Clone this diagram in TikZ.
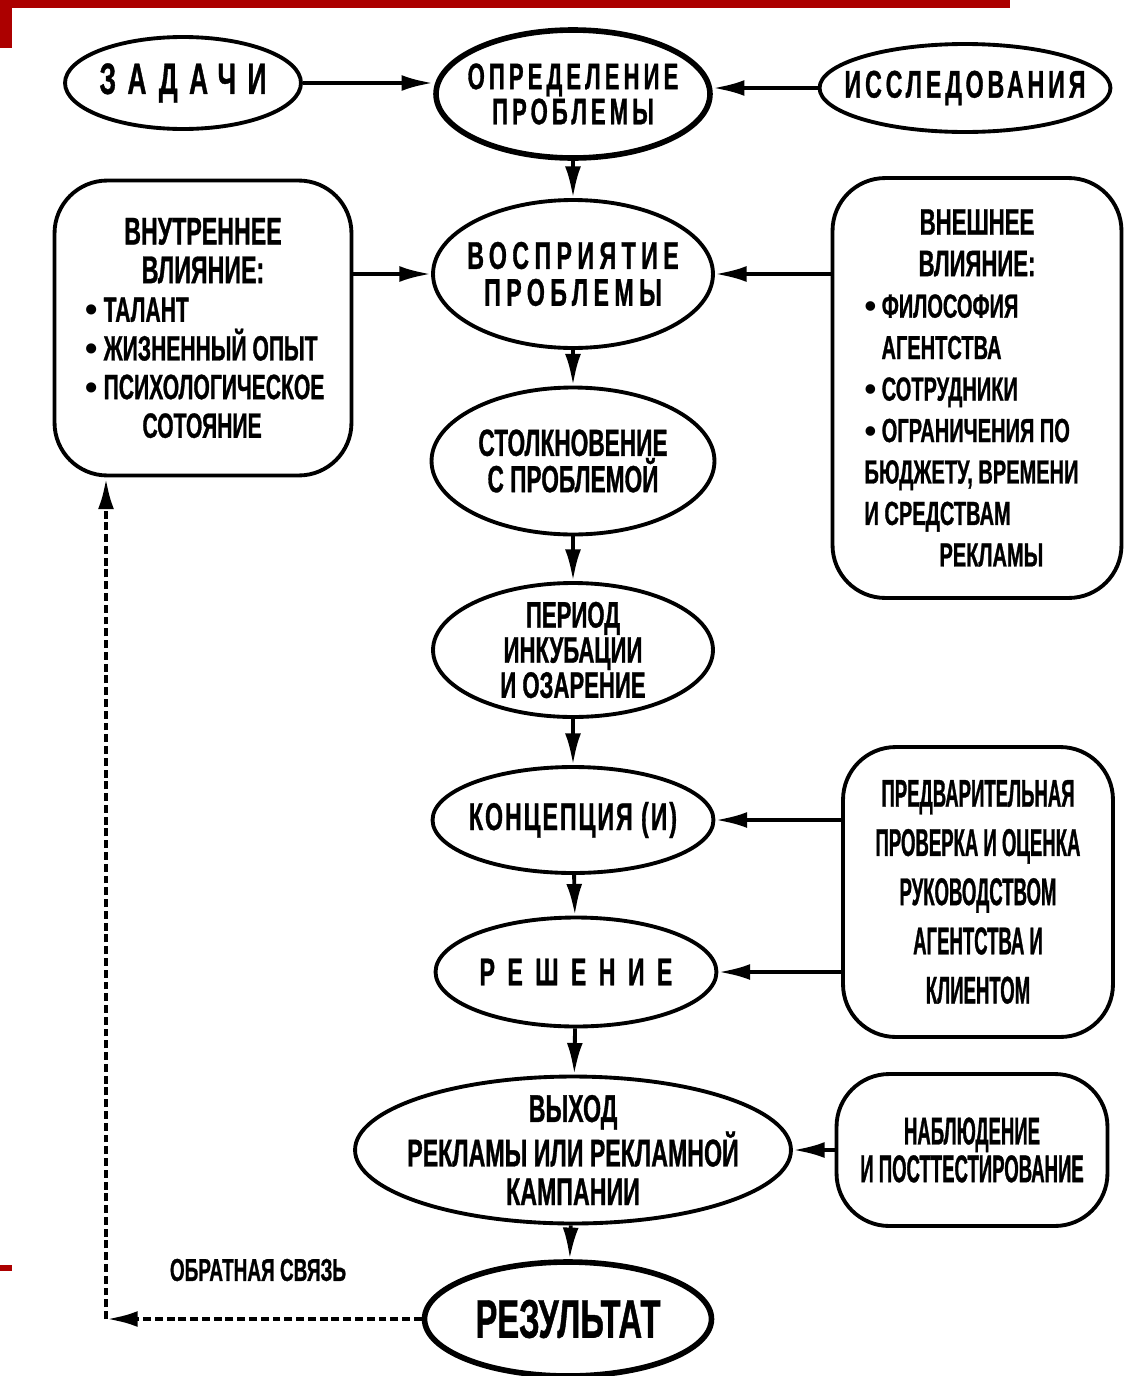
\documentclass[tikz,border=0pt]{standalone}
\usepackage{fontspec}
\setmainfont{Liberation Sans}
\newfontfamily\narrowfont[FakeStretch=0.6,FakeBold=0.8]{Liberation Sans}
\newfontfamily\slimfont[FakeStretch=0.48,FakeBold=0.8]{Liberation Sans}
\usetikzlibrary{arrows.meta,calc,positioning,shapes.geometric}
\definecolor{slidered}{RGB}{172,0,0}
\newcommand{\nf}[2]{\narrowfont\bfseries\fontsize{#1}{#2}\selectfont}
\newcommand{\slf}[2]{\slimfont\bfseries\fontsize{#1}{#2}\selectfont}
\newcommand{\spaced}[1]{\addfontfeature{LetterSpace=#1}}
\newcommand{\bul}{{\rmfamily\bfseries\textbullet}\,}
\newcommand{\lrow}[2]{\makebox[#1][l]{#2}}

\begin{document}
\begin{tikzpicture}[x=0.02cm,y=-0.02cm,
  oval/.style={ellipse,draw,line width=2.2pt,inner xsep=-10pt,inner ysep=-4pt,align=center},
  mainoval/.style={oval,line width=3.2pt},
  rbox/.style={rectangle,draw,line width=2.2pt,rounded corners=30pt,inner sep=0pt,align=center},
  arr/.style={-{Latex[length=18pt,width=9pt]},line width=2.2pt},
  fback/.style={arr,line width=2.6pt,dash pattern=on 4.5pt off 2.2pt}]
  \useasboundingbox (0,0) rectangle (1125,1376);
  \fill[slidered] (0,0) rectangle (1010,8);
  \fill[slidered] (0,0) rectangle (12,48);
  \fill[slidered] (0,1265) rectangle (12,1271);

  \node[oval,minimum width=4.72cm,minimum height=1.84cm,font=\nf{25}{24}\spaced{26}] (zadachi) at (183,83) {ЗАДАЧИ};
  \node[mainoval,minimum width=5.48cm,minimum height=2.56cm,font=\nf{21}{20}\spaced{11}] (opred) at (573,94) {ОПРЕДЕЛЕНИЕ\\ПРОБЛЕМЫ};
  \node[oval,minimum width=5.56cm,minimum height=1.76cm,font=\nf{22}{22}\spaced{10}] (issled) at (965,88) {ИССЛЕДОВАНИЯ};

  \node[rbox,minimum width=5.94cm,minimum height=5.9cm,font=\nf{20}{22}] (vnutr) at (203,328)
    {{\nf{22}{22}ВНУТРЕННЕЕ}\\{\nf{22}{22}ВЛИЯНИЕ:}\\
     \lrow{4.7cm}{\bul ТАЛАНТ}\\\lrow{4.7cm}{\bul ЖИЗНЕННЫЙ ОПЫТ}\\
     \lrow{4.7cm}{\bul ПСИХОЛОГИЧЕСКОЕ}\\\lrow{4.7cm}{\hspace{1.14cm}СОТОЯНИЕ}};
  \node[oval,minimum width=5.6cm,minimum height=2.96cm,font=\nf{22}{21}\spaced{14}] (vospr) at (573,274) {ВОСПРИЯТИЕ\\ПРОБЛЕМЫ};
  \node[rbox,minimum width=5.78cm,minimum height=8.4cm,font=\nf{19}{23.6}] (vneshn) at (977,388)
    {{\nf{21}{23.6}ВНЕШНЕЕ}\\{\nf{21}{23.6}ВЛИЯНИЕ:}\\
     \lrow{4.5cm}{\bul ФИЛОСОФИЯ}\\\lrow{4.5cm}{\hspace{0.34cm}АГЕНТСТВА}\\
     \lrow{4.5cm}{\bul СОТРУДНИКИ}\\\lrow{4.5cm}{\bul ОГРАНИЧЕНИЯ ПО}\\
     \lrow{4.5cm}{БЮДЖЕТУ, ВРЕМЕНИ}\\\lrow{4.5cm}{И СРЕДСТВАМ}\\
     \lrow{4.5cm}{\hspace{1.5cm}РЕКЛАМЫ}};

  \node[oval,minimum width=5.66cm,minimum height=2.94cm,font=\nf{21.5}{19}] (stolkn) at (573,461) {СТОЛКНОВЕНИЕ\\С ПРОБЛЕМОЙ};
  \node[oval,minimum width=5.6cm,minimum height=2.68cm,font=\nf{21}{20}] (period) at (573,650) {ПЕРИОД\\ИНКУБАЦИИ\\И ОЗАРЕНИЕ};
  \node[oval,minimum width=5.62cm,minimum height=2.12cm,font=\nf{22}{22}\spaced{5}] (koncep) at (573,820) {КОНЦЕПЦИЯ (И)};
  \node[oval,minimum width=5.62cm,minimum height=2.18cm,font=\nf{22}{22}\spaced{32}] (reshen) at (576,972) {РЕШЕНИЕ};
  \node[rbox,minimum width=5.4cm,minimum height=5.8cm,font=\slf{22}{28}] (predv) at (978,892)
    {ПРЕДВАРИТЕЛЬНАЯ\\ПРОВЕРКА И ОЦЕНКА\\РУКОВОДСТВОМ\\АГЕНТСТВА И\\КЛИЕНТОМ};
  \node[oval,minimum width=8.72cm,minimum height=2.94cm,font=\nf{22}{22}] (vyhod) at (573,1150) {ВЫХОД\\РЕКЛАМЫ ИЛИ РЕКЛАМНОЙ\\КАМПАНИИ};
  \node[rbox,minimum width=5.42cm,minimum height=3.04cm,font=\slf{22}{21.5}] (nabl) at (972,1150) {НАБЛЮДЕНИЕ\\И ПОСТТЕСТИРОВАНИЕ};
  \node[mainoval,minimum width=5.74cm,minimum height=2.28cm,font=\nf{31}{31}] (rezult) at (568,1319) {РЕЗУЛЬТАТ};
  \node[font=\nf{18}{18}] (fblabel) at (258,1270) {ОБРАТНАЯ СВЯЗЬ};
  \coordinate (fbturn) at (106,1319);

  \draw[arr] (zadachi.east) -- (zadachi.east -| opred.west);
  \draw[arr] (issled.west) -- (issled.west -| opred.east);
  \draw[arr] (vnutr.east |- vospr) -- (vospr);
  \draw[arr] (vneshn.west |- vospr) -- (vospr);
  \draw[arr] (predv.west |- koncep) -- (koncep);
  \draw[arr] (predv.west |- reshen) -- (reshen);
  \draw[arr] (nabl) -- (vyhod);
  \foreach \a/\b in {opred/vospr,vospr/stolkn,stolkn/period,period/koncep,koncep/reshen,reshen/vyhod,vyhod/rezult}
    \draw[arr] (\a) -- (\b);
  \draw[fback] (rezult) -- (fbturn);
  \draw[fback] (fbturn) -- (fbturn |- vnutr.south);
\end{tikzpicture}
\end{document}
